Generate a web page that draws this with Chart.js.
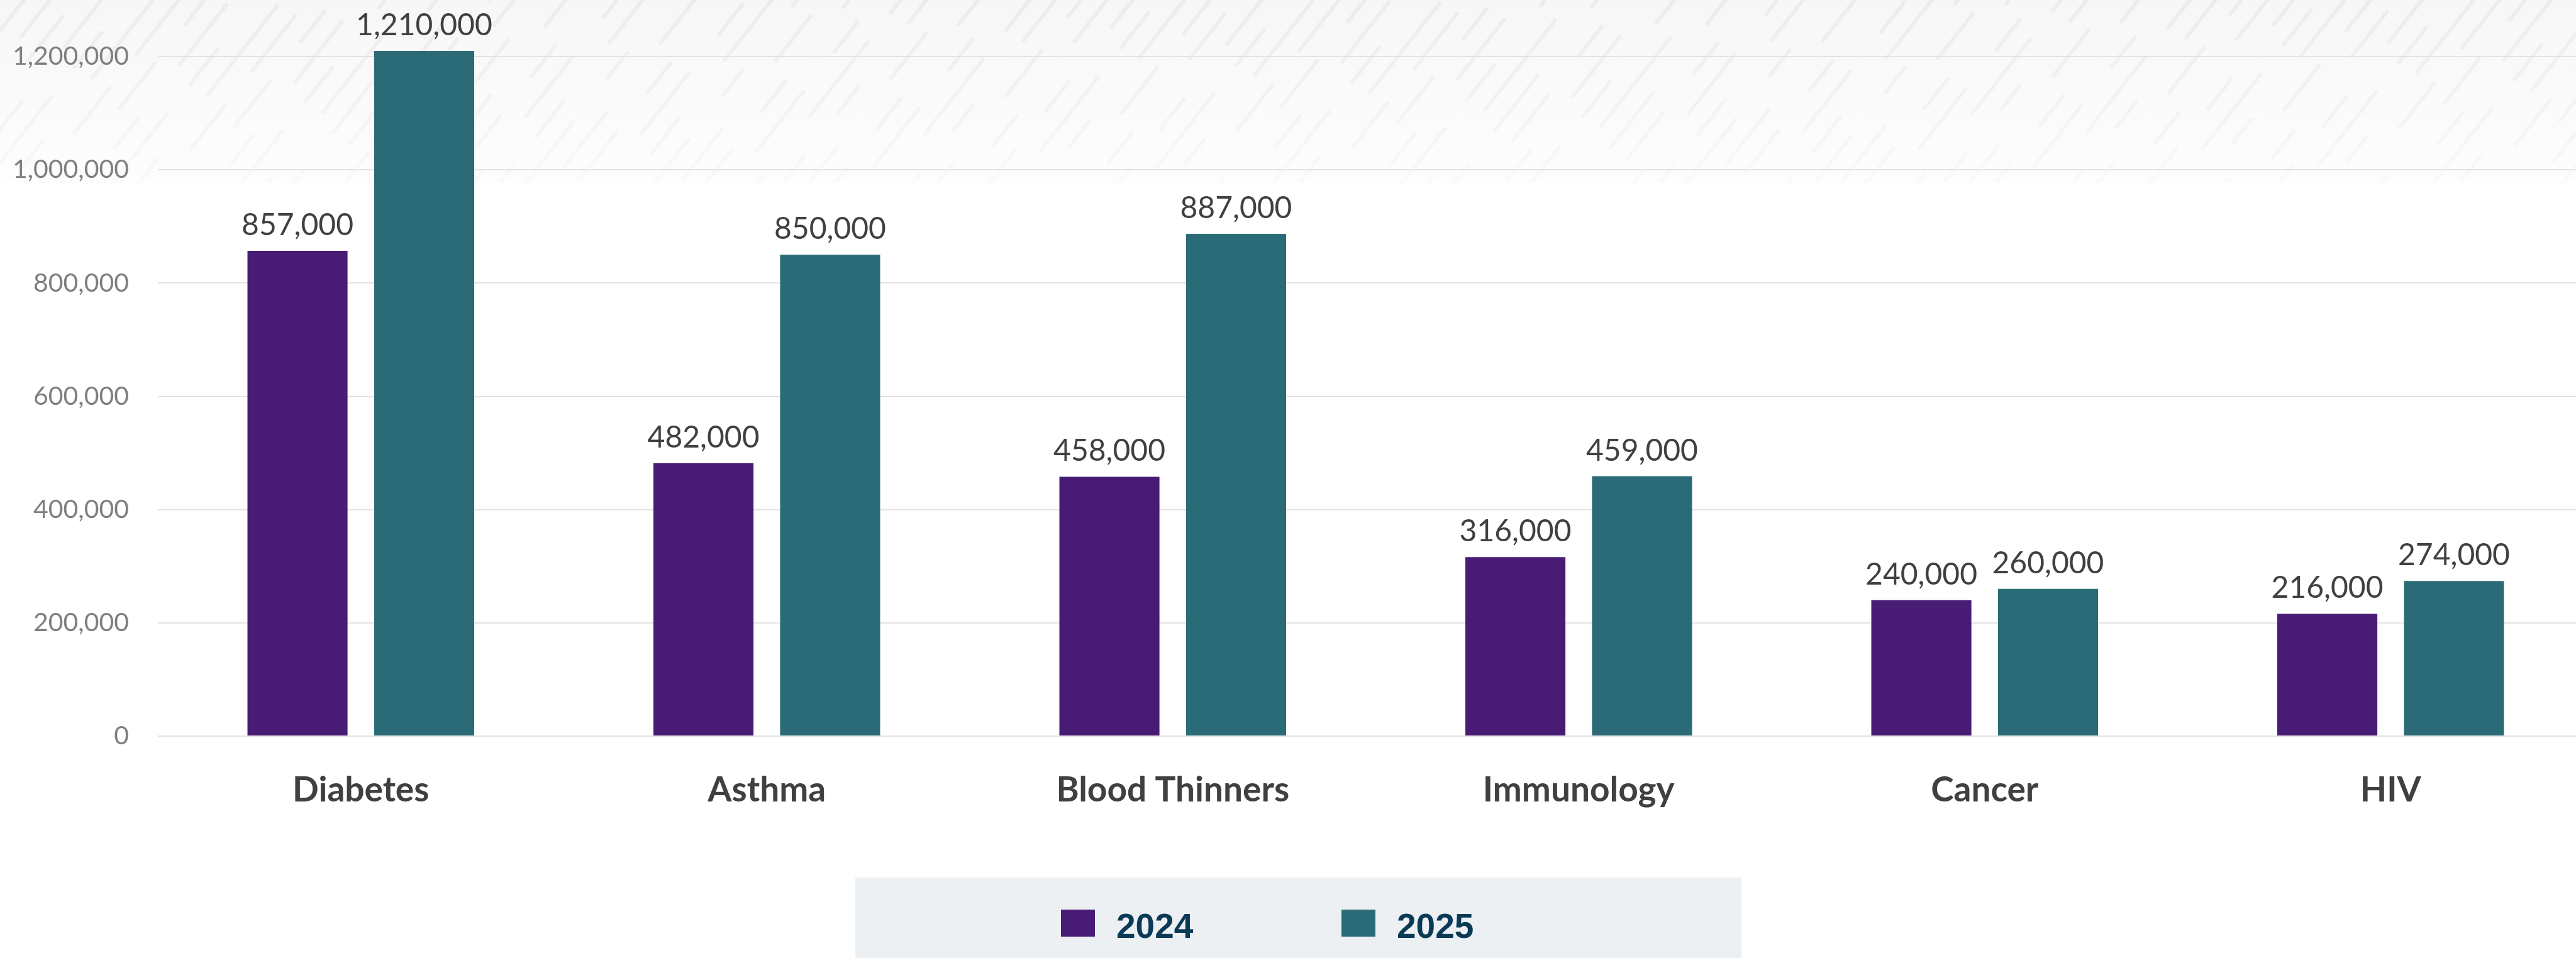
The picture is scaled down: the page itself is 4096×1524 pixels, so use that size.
<!DOCTYPE html>
<html>
<head>
<meta charset="utf-8">
<script src="https://cdn.jsdelivr.net/npm/chart.js@4.4.1/dist/chart.umd.min.js"></script>
<style>
  html, body { margin: 0; padding: 0; background: #ffffff; overflow: hidden; }
  #wrap { position: relative; width: 4124px; height: 1524px; }
</style>
</head>
<body>
<div id="wrap"><canvas id="c"></canvas></div>
<script>
// ---- data ----
const categories = ['Diabetes', 'Asthma', 'Blood Thinners', 'Immunology', 'Cancer', 'HIV'];
const seriesNames = ['2024', '2025'];
const values2024 = [857000, 482000, 458000, 316000, 240000, 216000];
const values2025 = [1210000, 850000, 887000, 459000, 260000, 274000];
const yTickValues = [0, 200000, 400000, 600000, 800000, 1000000, 1200000];

const COLOR_2024 = '#481C75';
const COLOR_2025 = '#2B6B77';

const fmt = v => Number(v).toLocaleString('en-US');

// decorative hatched band at the top
const hatchPlugin = {
  id: 'hatch',
  beforeDraw(chart) {
    const ctx = chart.ctx;
    const W = chart.width, H = 291;
    ctx.save();
    ctx.fillStyle = '#ffffff';
    ctx.fillRect(0, 0, chart.width, chart.height);
    const g = ctx.createLinearGradient(0, 0, 0, H);
    g.addColorStop(0, 'rgba(240,240,240,0.55)');
    g.addColorStop(1, 'rgba(240,240,240,0.12)');
    ctx.fillStyle = g;
    ctx.fillRect(0, 0, W, H);
    ctx.beginPath();
    ctx.rect(0, 0, W, H);
    ctx.clip();
    const sg = ctx.createLinearGradient(0, 0, 0, H);
    sg.addColorStop(0, 'rgba(225,225,225,0.5)');
    sg.addColorStop(1, 'rgba(225,225,225,0.12)');
    ctx.strokeStyle = sg;
    ctx.lineWidth = 6;
    ctx.lineCap = 'round';
    const ang = 52 * Math.PI / 180;
    const dx = Math.cos(ang), dy = Math.sin(ang);
    const len = H / dy + 40;
    const patterns = [[120, 80, 60, 110], [70, 120, 150, 60], [180, 90, 50, 130], [90, 70, 110, 140], [60, 150, 90, 80]];
    const spacing = 41;
    for (let i = -12, k = 0; i * spacing < W + 50; i++, k++) {
      const x0 = i * spacing;
      ctx.setLineDash(patterns[k % 5]);
      ctx.lineDashOffset = (k * 71) % 320;
      ctx.beginPath();
      ctx.moveTo(x0, H + 20);
      ctx.lineTo(x0 + dx * len, H + 20 - dy * len);
      ctx.stroke();
    }
    ctx.restore();
  }
};

// value labels above the bars
const valueLabelPlugin = {
  id: 'valueLabels',
  afterDatasetsDraw(chart) {
    const ctx = chart.ctx;
    ctx.save();
    ctx.font = '48px Lato';
    ctx.fillStyle = '#404040';
    ctx.textAlign = 'center';
    ctx.textBaseline = 'alphabetic';
    chart.data.datasets.forEach((ds, i) => {
      const meta = chart.getDatasetMeta(i);
      meta.data.forEach((bar, j) => {
        ctx.fillText(fmt(ds.data[j]), bar.x, bar.y - 25);
      });
    });
    ctx.restore();
  }
};

// boxed legend at the bottom
const boxLegendPlugin = {
  id: 'boxLegend',
  afterDraw(chart) {
    const ctx = chart.ctx;
    ctx.save();
    ctx.fillStyle = '#EDF0F3';
    ctx.fillRect(1360, 1396, 1409, chart.height - 1396);
    ctx.font = 'bold 55px "Liberation Sans", Arial, sans-serif';
    ctx.textAlign = 'left';
    ctx.textBaseline = 'alphabetic';
    chart.data.datasets.forEach((ds, i) => {
      const x = 1687 + i * 446;
      ctx.fillStyle = ds.backgroundColor;
      ctx.fillRect(x, 1447, 54, 43);
      ctx.fillStyle = '#0B3A57';
      ctx.fillText(ds.label, x + 88, 1492);
    });
    ctx.restore();
  }
};

new Chart(document.getElementById('c'), {
  type: 'bar',
  data: {
    labels: categories,
    datasets: [
      { label: seriesNames[0], data: values2024, backgroundColor: COLOR_2024, categoryPercentage: 0.624, barPercentage: 0.79 },
      { label: seriesNames[1], data: values2025, backgroundColor: COLOR_2025, categoryPercentage: 0.624, barPercentage: 0.79 }
    ]
  },
  options: {
    responsive: true,
    maintainAspectRatio: false,
    animation: false,
    layout: { padding: 0 },
    plugins: {
      legend: { display: false },
      tooltip: { enabled: false },
      title: { display: false }
    },
    scales: {
      x: {
        grid: { display: false, drawTicks: false },
        border: { display: false },
        ticks: {
          padding: 53,
          color: '#404040',
          font: { family: 'Lato', size: 55, weight: 'bold' },
          maxRotation: 0,
          autoSkip: false
        },
        afterFit(s) { s.height = 353; s.paddingLeft = 0; s.paddingRight = 0; }
      },
      y: {
        min: 0,
        max: 1300000,
        grid: { color: '#E3E3E3', lineWidth: 2, drawTicks: false },
        border: { display: false },
        afterBuildTicks(s) { s.ticks = yTickValues.map(v => ({ value: v })); },
        ticks: {
          padding: 46,
          color: '#7F7F7F',
          font: { family: 'Lato', size: 41 },
          callback: v => fmt(v)
        },
        afterFit(s) { s.width = 251; s.paddingTop = 0; s.paddingBottom = 0; }
      }
    }
  },
  plugins: [hatchPlugin, valueLabelPlugin, boxLegendPlugin]
});
</script>
</body>
</html>
